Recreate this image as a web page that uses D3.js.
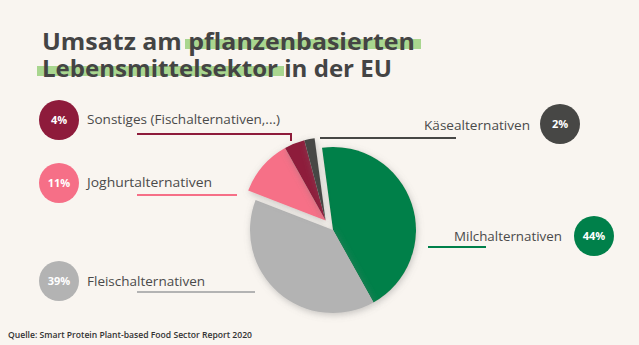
<!DOCTYPE html>
<html><head><meta charset="utf-8">
<script src="https://cdn.jsdelivr.net/npm/d3@7"></script>
<style>html,body{margin:0;padding:0;background:#f9f5f0;}svg{display:block;}</style>
</head><body>
<script>
const categories = ["Milchalternativen","Fleischalternativen","Joghurtalternativen","Sonstiges (Fischalternativen,...)","Käsealternativen"];
const values = [44, 39, 11, 4, 2];
const pctLabels = ["44%","39%","11%","4%","2%"];
const colors = ["#00804a","#b3b3b3","#f66f87","#8e1b3b","#474745"];
const exploded = [false,false,true,true,true];

const W=639,H=345;
const svg=d3.select("body").append("svg").attr("width",W).attr("height",H);
svg.append("rect").attr("width",W).attr("height",H).attr("fill","#f9f5f0");
const defs=svg.append("defs");
const f=defs.append("filter").attr("id","sh").attr("x","-30%").attr("y","-30%").attr("width","160%").attr("height","160%");
f.append("feDropShadow").attr("dx",1).attr("dy",2).attr("stdDeviation",3.5).attr("flood-color","#777").attr("flood-opacity",0.4);

// title
const hl="#a9d68f";
svg.append("rect").attr("x",185).attr("y",39).attr("width",236).attr("height",10).attr("fill",hl);
svg.append("rect").attr("x",37).attr("y",66).attr("width",247).attr("height",10).attr("fill",hl);
const tfont="'Open Sans', sans-serif";
svg.append("text").attr("x",42).attr("y",50).attr("font-family",tfont).attr("font-weight",700).attr("font-size",23)
  .attr("fill","#444").attr("textLength",373).attr("lengthAdjust","spacingAndGlyphs").text("Umsatz am pflanzenbasierten");
svg.append("text").attr("x",42).attr("y",77).attr("font-family",tfont).attr("font-weight",700).attr("font-size",23)
  .attr("fill","#444").attr("textLength",350).attr("lengthAdjust","spacingAndGlyphs").text("Lebensmittelsektor in der EU");

// pie
const cx=333, cy=230, R=83;
const startAngle = -7.6*Math.PI/180;
const pie=d3.pie().sort(null).value(d=>d).startAngle(startAngle).endAngle(startAngle+2*Math.PI);
const arcs=pie(values);
const arc=d3.arc().innerRadius(0).outerRadius(R);
// explode group of small slices together
const gStart=arcs[2].startAngle, gEnd=arcs[4].endAngle, gMid=(gStart+gEnd)/2, off=12;
const ox=Math.sin(gMid)*off, oy=-Math.cos(gMid)*off;
const pg=svg.append("g").attr("transform",`translate(${cx},${cy})`);
pg.selectAll("path").data(arcs).join("path")
  .attr("d",arc).attr("fill",(d,i)=>colors[i])
  .attr("transform",(d,i)=>exploded[i]?`translate(${ox},${oy})`:null)
  .attr("filter","url(#sh)");

// labels
const lfont="'Open Sans', sans-serif";
const labels=[
 {i:3, cx:59, cy:120, tx:87, ty:124, anchor:"start", tl:193, line:[[137,134],[291,134],[291,141]]},
 {i:2, cx:59, cy:183, tx:87, ty:187, anchor:"start", tl:125, line:[[137,195],[237,195]]},
 {i:1, cx:59, cy:281, tx:87, ty:286, anchor:"start", tl:118, line:[[137,292],[255,292]]},
 {i:4, cx:560, cy:124, tx:530, ty:130, anchor:"end", tl:106, line:[[320,138],[456,138]]},
 {i:0, cx:594, cy:236, tx:562, ty:241, anchor:"end", tl:108, line:[[428,247],[486,247]]}
];
const lg=svg.append("g");
labels.forEach(l=>{
  lg.append("path").attr("d",d3.line()(l.line)).attr("fill","none").attr("stroke",colors[l.i]).attr("stroke-width",2);
  lg.append("circle").attr("cx",l.cx).attr("cy",l.cy).attr("r",20).attr("fill",colors[l.i]);
  lg.append("text").attr("x",l.cx).attr("y",l.cy+4).attr("text-anchor","middle").attr("font-family",lfont)
    .attr("font-weight",700).attr("font-size",11).attr("fill","#fff").text(pctLabels[l.i]);
  lg.append("text").attr("x",l.anchor==="start"?l.tx:l.tx-l.tl).attr("y",l.ty).attr("font-family",lfont)
    .attr("font-size",13).attr("fill","#4a4a4a").attr("textLength",l.tl).attr("lengthAdjust","spacingAndGlyphs").text(categories[l.i]);
});

svg.append("text").attr("x",8).attr("y",338).attr("font-family",lfont).attr("font-weight",600).attr("font-size",9)
  .attr("fill","#333").attr("textLength",244).attr("lengthAdjust","spacingAndGlyphs").text("Quelle: Smart Protein Plant-based Food Sector Report 2020");
</script>
</body></html>
